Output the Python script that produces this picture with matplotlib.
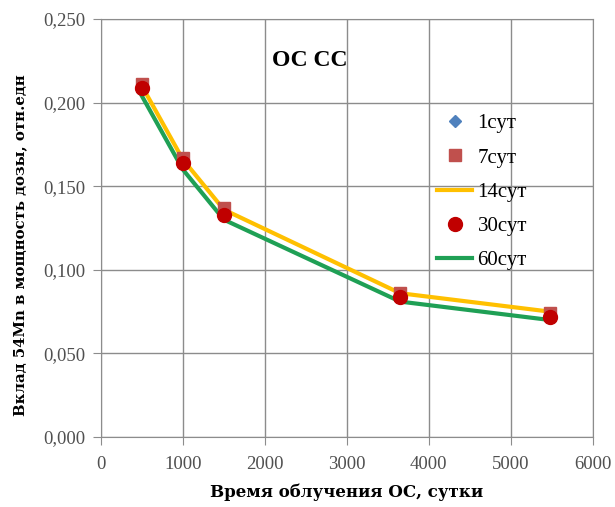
import matplotlib
matplotlib.use("Agg")
import matplotlib.pyplot as plt
from matplotlib.ticker import FuncFormatter, MultipleLocator

days = [500, 1000, 1500, 3650, 5475]
s1 = [0.211, 0.166, 0.136, 0.085, 0.074]
s7 = [0.211, 0.167, 0.137, 0.086, 0.074]
s14 = [0.210, 0.166, 0.136, 0.086, 0.075]
s30 = [0.209, 0.164, 0.133, 0.084, 0.072]
s60 = [0.204, 0.160, 0.130, 0.081, 0.070]
labels = ["1сут", "7сут", "14сут", "30сут", "60сут"]

plt.rcParams['font.family'] = ['Liberation Serif', 'DejaVu Serif']

fig = plt.figure(figsize=(6.15, 5.07), dpi=100)
ax = fig.add_axes([0.164, 0.138, 0.800, 0.8245])

ax.plot(days, s1, linestyle='none', marker='D', markersize=6, color='#4F81BD', label=labels[0], zorder=3)
ax.plot(days, s7, linestyle='none', marker='s', markersize=9, color='#C0504D', label=labels[1], zorder=4)
ax.plot(days, s14, color='#FFC000', linewidth=3, label=labels[2], zorder=2)
ax.plot(days, s30, linestyle='none', marker='o', markersize=10, color='#C00000', label=labels[3], zorder=5)
ax.plot(days, s60, color='#1FA055', linewidth=3, label=labels[4], zorder=2)

ax.set_xlim(0, 6000)
ax.set_ylim(0, 0.25)
ax.xaxis.set_major_locator(MultipleLocator(1000))
ax.yaxis.set_major_locator(MultipleLocator(0.05))
ax.yaxis.set_major_formatter(FuncFormatter(lambda v, p: f"{v:.3f}".replace('.', ',')))
ax.grid(True, color='#8c8c8c', linewidth=1)
ax.set_axisbelow(True)
for sp in ax.spines.values():
    sp.set_color('#8c8c8c')
ax.tick_params(colors='#8c8c8c', labelcolor='#505050', labelsize=13.5, length=6)
ax.tick_params(axis='x', pad=8)
ax.tick_params(axis='y', pad=5)

ax.set_xlabel("Время облучения ОС, сутки", fontsize=12, fontweight='bold', labelpad=7,
              family=['DejaVu Serif'])
ax.set_ylabel("Вклад 54Mn в мощность дозы, отн.едн", fontsize=10.7, fontweight='bold',
              family=['DejaVu Serif'])
ax.yaxis.set_label_coords(-0.15, 0.46)
ax.text(0.425, 0.90, "ОС СС", transform=ax.transAxes, fontsize=17, fontweight='bold', ha='center', va='center')

leg = ax.legend(loc='upper left', bbox_to_anchor=(0.683, 0.773), frameon=False, fontsize=15,
                handlelength=1.7, labelspacing=0.7, handletextpad=0.25, borderpad=0, borderaxespad=0)

fig.savefig("out.png", dpi=100, facecolor='white')
